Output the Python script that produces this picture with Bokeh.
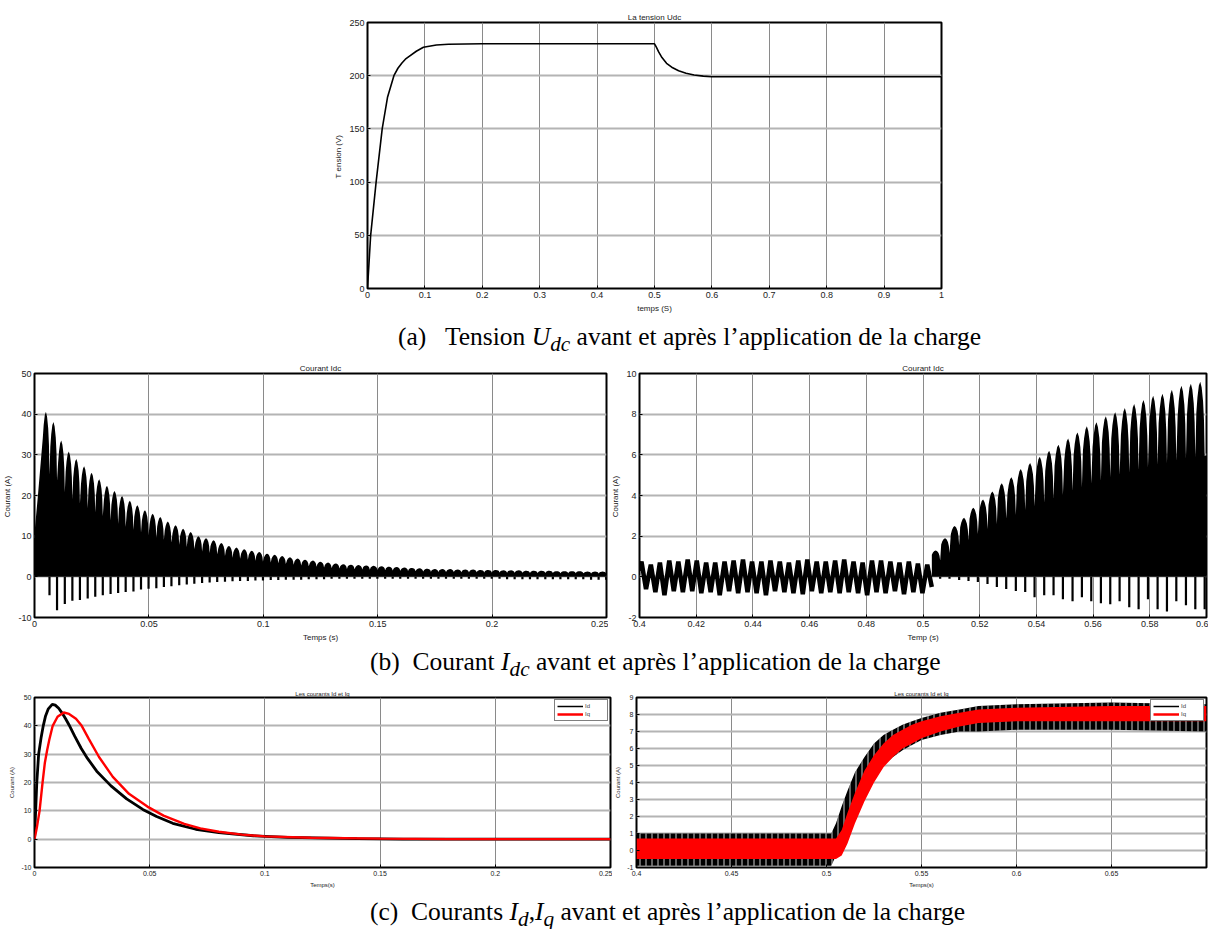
from bokeh.plotting import figure
from bokeh.models import FixedTicker, Div, Range1d, Legend, LegendItem
from bokeh.layouts import column, row
from bokeh.embed import file_html
from bokeh.resources import INLINE

# ---------------- data ----------------
# (a) DC bus voltage
udc_t = [0, 0.0055, 0.015, 0.0256, 0.035, 0.046, 0.053, 0.06, 0.066, 0.072, 0.085, 0.0974, 0.12, 0.141, 0.2,
         0.5, 0.503, 0.507, 0.513, 0.521, 0.53, 0.542, 0.555, 0.569, 0.585, 0.6, 1.0]
udc_v = [0, 50, 100, 150, 180, 200, 207, 212, 215.5, 218, 223, 226.7, 228.8, 229.5, 230,
         230, 227, 222.6, 217, 211.6, 208, 204.7, 202.3, 200.6, 199.6, 199, 199]
udc_xticks = [0.0, 0.1, 0.2, 0.3, 0.4, 0.5, 0.6, 0.7, 0.8, 0.9, 1.0]
udc_xlabels = ["0", "0.1", "0.2", "0.3", "0.4", "0.5", "0.6", "0.7", "0.8", "0.9", "1"]
udc_yticks = [0, 50, 100, 150, 200, 250]
udc_ylabels = ["0", "50", "100", "150", "200", "250"]

# (b-left) Idc, start-up: ripple lobe peaks and negative spikes
idc1_lead_t = [0.0, 0.0002, 0.0015, 0.003]
idc1_lead_v = [0.0, 12.0, 20.0, 30.0]
idc1_peak_t = [0.0050, 0.0083, 0.0117, 0.0150, 0.0183, 0.0217, 0.0250, 0.0283, 0.0317, 0.0350,
               0.0383, 0.0417, 0.0450, 0.0483, 0.0517, 0.0550, 0.0583, 0.0617, 0.0650, 0.0683,
               0.0717, 0.0750, 0.0783, 0.0817, 0.0850, 0.0883, 0.0917, 0.0950, 0.0983, 0.1017,
               0.1050, 0.1083, 0.1117, 0.1150, 0.1183, 0.1217, 0.1250, 0.1283, 0.1317, 0.1350,
               0.1383, 0.1417, 0.1450, 0.1483, 0.1517, 0.1550, 0.1583, 0.1617, 0.1650, 0.1683,
               0.1717, 0.1750, 0.1783, 0.1817, 0.1850, 0.1883, 0.1917, 0.1950, 0.1983, 0.2017,
               0.2050, 0.2083, 0.2117, 0.2150, 0.2183, 0.2217, 0.2250, 0.2283, 0.2317, 0.2350,
               0.2383, 0.2417, 0.2450, 0.2483]
idc1_peak_v = [40.6, 38.1, 33.5, 30.8, 29.0, 27.2, 25.6, 24.0, 22.4, 21.1,
               19.9, 18.7, 17.6, 16.4, 15.5, 14.7, 13.6, 12.7, 11.8, 11.0,
               10.0, 9.5, 9.0, 8.3, 7.6, 7.2, 6.8, 6.4, 6.1, 5.7,
               5.4, 5.1, 4.8, 4.5, 4.2, 4.0, 3.7, 3.5, 3.3, 3.1,
               3.0, 2.9, 2.8, 2.7, 2.6, 2.5, 2.4, 2.3, 2.2, 2.1,
               2.0, 1.9, 1.9, 1.9, 1.8, 1.8, 1.8, 1.7, 1.7, 1.7,
               1.6, 1.6, 1.6, 1.5, 1.5, 1.5, 1.5, 1.4, 1.4, 1.4,
               1.4, 1.3, 1.3, 1.3]
idc1_neg_v = [-4.5, -8.2, -6.7, -5.9, -5.7, -5.3, -4.9, -4.5, -4.2, -4.0,
              -3.7, -3.6, -3.1, -2.9, -2.8, -2.5, -2.3, -2.1, -1.9, -1.7,
              -1.5, -1.4, -1.3, -1.2, -1.1, -1.0, -1.0, -0.9, -0.9, -0.8,
              -0.8, -0.7, -0.7, -0.7, -0.6, -0.6, -0.6, -0.5, -0.5, -0.5,
              -0.5, -0.5, -0.5, -0.5, -0.5, -0.5, -0.5, -0.5, -0.5, -0.5,
              -0.5, -0.5, -0.5, -0.5, -0.5, -0.5, -0.5, -0.5, -0.5, -0.5,
              -0.6, -0.6, -0.6, -0.6, -0.6, -0.6, -0.6, -0.6, -0.6, -0.6,
              -0.6, -0.7, -0.7, -0.7]
idc1_xticks = [0.0, 0.05, 0.1, 0.15, 0.2, 0.25]
idc1_xlabels = ["0", "0.05", "0.1", "0.15", "0.2", "0.25"]
idc1_yticks = [-10, 0, 10, 20, 30, 40, 50]
idc1_ylabels = ["-10", "0", "10", "20", "30", "40", "50"]

# (b-right) Idc around the load step
idc2_wave_start_t = [0.4]
idc2_wave_start_v = [0.3]
idc2_wave_peak_t = [0.4007, 0.4040, 0.4072, 0.4105, 0.4137, 0.4170, 0.4202, 0.4235, 0.4267, 0.4300,
                    0.4332, 0.4365, 0.4397, 0.4430, 0.4462, 0.4495, 0.4527, 0.4560, 0.4592, 0.4625,
                    0.4657, 0.4690, 0.4722, 0.4755, 0.4787, 0.4820, 0.4852, 0.4885, 0.4917, 0.4950,
                    0.4982, 0.5015]
idc2_wave_peak_v = [0.75, 0.6, 0.7, 0.8, 0.75, 0.85, 0.8, 0.7, 0.7, 0.75,
                    0.8, 0.85, 0.75, 0.75, 0.8, 0.75, 0.7, 0.8, 0.85, 0.75,
                    0.75, 0.8, 0.85, 0.75, 0.7, 0.8, 0.8, 0.75, 0.7, 0.75,
                    0.65, 0.6]
idc2_wave_trough_t = [0.4023, 0.4056, 0.4088, 0.4121, 0.4153, 0.4186, 0.4218, 0.4251, 0.4283, 0.4316,
                      0.4348, 0.4381, 0.4413, 0.4446, 0.4478, 0.4511, 0.4543, 0.4576, 0.4608, 0.4641,
                      0.4673, 0.4706, 0.4738, 0.4771, 0.4803, 0.4836, 0.4868, 0.4901, 0.4933, 0.4966,
                      0.4998, 0.5031]
idc2_wave_trough_v = [-0.6, -0.75, -0.9, -0.7, -0.75, -0.7, -0.8, -0.75, -0.9, -0.7,
                      -0.8, -0.75, -0.8, -0.9, -0.7, -0.75, -0.8, -0.85, -0.7, -0.8,
                      -0.75, -0.8, -0.75, -0.8, -0.9, -0.75, -0.8, -0.7, -0.85, -0.75,
                      -0.8, -0.5]
idc2_peak_t = [0.5045, 0.5078, 0.5112, 0.5145, 0.5178, 0.5212, 0.5245, 0.5278, 0.5312, 0.5345,
               0.5378, 0.5412, 0.5445, 0.5478, 0.5512, 0.5545, 0.5578, 0.5612, 0.5645, 0.5678,
               0.5712, 0.5745, 0.5778, 0.5812, 0.5845, 0.5878, 0.5912, 0.5945, 0.5978]
idc2_peak_v = [1.3, 1.9, 2.5, 2.9, 3.4, 3.8, 4.2, 4.6, 4.9, 5.3,
               5.6, 5.9, 6.2, 6.5, 6.8, 7.1, 7.4, 7.6, 7.9, 8.1,
               8.3, 8.5, 8.7, 8.9, 9.0, 9.2, 9.4, 9.5, 9.6]
idc2_neg_v = [-0.1, -0.1, -0.15, -0.2, -0.25, -0.35, -0.5, -0.6, -0.7, -0.75,
              -1.0, -0.9, -0.9, -1.1, -1.2, -1.0, -1.2, -1.3, -1.35, -1.2,
              -1.5, -1.6, -1.1, -1.6, -1.7, -1.2, -1.4, -1.6, -1.6]
idc2_xticks = [0.4, 0.42, 0.44, 0.46, 0.48, 0.5, 0.52, 0.54, 0.56, 0.58, 0.6]
idc2_xlabels = ["0.4", "0.42", "0.44", "0.46", "0.48", "0.5", "0.52", "0.54", "0.56", "0.58", "0.6"]
idc2_yticks = [-2, 0, 2, 4, 6, 8, 10]
idc2_ylabels = ["-2", "0", "2", "4", "6", "8", "10"]

# (c-left) Id, Iq start-up
id1_t = [0, 0.0005, 0.001, 0.0018, 0.0029, 0.0038, 0.0048, 0.006, 0.0077, 0.009, 0.0105, 0.012,
         0.0135, 0.015, 0.0175, 0.0203, 0.023, 0.027, 0.0332, 0.040, 0.047, 0.053, 0.06, 0.07,
         0.08, 0.095, 0.11, 0.14, 0.16, 0.25]
id1_v = [0, 10, 20, 30, 36, 40, 43.5, 46, 47.6, 47.3, 46.2, 44.5,
         42.5, 40.3, 36.3, 32, 28.5, 24, 18.8, 14.2, 10.5, 8, 5.6, 3.5,
         2.3, 1.2, 0.6, 0.2, 0.0, 0.0]
iq1_t = [0, 0.001, 0.0022, 0.0035, 0.0045, 0.0055, 0.0064, 0.0079, 0.010, 0.0127, 0.015, 0.018,
         0.0205, 0.0235, 0.028, 0.034, 0.041, 0.049, 0.056, 0.065, 0.072, 0.08, 0.09, 0.1,
         0.12, 0.15, 0.18, 0.25]
iq1_v = [0, 4, 10, 20, 27, 31.5, 35, 40, 43.2, 44.7, 44.2, 42.5,
         40, 35.5, 29, 22, 16, 11.5, 8.3, 5.4, 3.8, 2.6, 1.6, 1.0,
         0.5, 0.2, 0.0, 0.0]
c1_xticks = [0.0, 0.05, 0.1, 0.15, 0.2, 0.25]
c1_xlabels = ["0", "0.05", "0.1", "0.15", "0.2", "0.25"]
c1_yticks = [-10, 0, 10, 20, 30, 40, 50]
c1_ylabels = ["-10", "0", "10", "20", "30", "40", "50"]

# (c-right) Id, Iq around load step: ripple band edges
c2_t = [0.4, 0.5025, 0.505, 0.508, 0.511, 0.515, 0.52, 0.525, 0.53, 0.535, 0.54, 0.545, 0.55,
        0.56, 0.57, 0.58, 0.6, 0.65, 0.7]
id2_hi = [1.0, 1.0, 1.6, 2.6, 3.5, 4.6, 5.5, 6.3, 6.8, 7.1, 7.4, 7.6, 7.8,
          8.1, 8.3, 8.5, 8.6, 8.7, 8.6]
id2_lo = [-0.9, -0.9, -0.3, 0.3, 1.2, 2.2, 3.2, 4.2, 5.0, 5.5, 5.9, 6.2, 6.5,
          6.8, 7.0, 7.0, 7.1, 7.1, 7.0]
iq2_hi = [0.7, 0.7, 0.7, 1.2, 2.2, 3.4, 4.7, 5.6, 6.3, 6.8, 7.1, 7.4, 7.6,
          7.9, 8.1, 8.3, 8.4, 8.5, 8.5]
iq2_lo = [-0.5, -0.5, -0.5, -0.3, 0.4, 1.6, 2.9, 4.0, 4.9, 5.5, 6.0, 6.3, 6.6,
          7.0, 7.3, 7.5, 7.6, 7.6, 7.6]
c2_xticks = [0.4, 0.45, 0.5, 0.55, 0.6, 0.65, 0.7]
c2_xlabels = ["0.4", "0.45", "0.5", "0.55", "0.6", "0.65", ""]
c2_yticks = [-1, 0, 1, 2, 3, 4, 5, 6, 7, 8, 9]
c2_ylabels = ["-1", "0", "1", "2", "3", "4", "5", "6", "7", "8", "9"]

# ---------------- helpers ----------------
FONT = "'Liberation Sans Narrow', 'Liberation Sans', Arial, sans-serif"
SERIF = "'Liberation Serif', 'Times New Roman', serif"


def make_fig(w, h, xr, yr, title, borders, title_fs):
    l, r, t, b = borders
    p = figure(width=w, height=h, x_range=Range1d(*xr), y_range=Range1d(*yr),
               output_backend="svg", toolbar_location=None,
               min_border_left=l, min_border_right=r, min_border_top=t, min_border_bottom=b,
               title=title)
    p.title.align = "center"
    p.title.text_font = FONT
    p.title.text_font_size = title_fs
    p.title.text_font_style = "normal"
    p.title.text_color = "#222222"
    p.title.standoff = 2
    p.background_fill_color = "white"
    p.border_fill_color = "white"
    p.outline_line_color = "black"
    p.outline_line_width = 2
    p.xgrid.grid_line_color = "#8a8a8a"
    p.xgrid.grid_line_width = 1
    p.ygrid.grid_line_color = "#b4b4b4"
    p.ygrid.grid_line_width = 2
    return p


def axes(p, xt, xl, yt, yl, xlab, ylab, tick_fs, lab_fs):
    for ax, t, lab, name in ((p.xaxis[0], xt, xl, xlab), (p.yaxis[0], yt, yl, ylab)):
        ax.ticker = FixedTicker(ticks=t)
        ax.major_label_overrides = dict(zip(t, lab))
        ax.major_label_text_font = FONT
        ax.major_label_text_font_size = tick_fs
        ax.major_label_text_color = "#222222"
        ax.major_tick_in = 3
        ax.major_tick_out = 0
        ax.minor_tick_in = 0
        ax.minor_tick_out = 0
        ax.axis_line_color = None
        ax.major_label_standoff = 3
        ax.axis_label = name
        ax.axis_label_text_font = FONT
        ax.axis_label_text_font_size = lab_fs
        ax.axis_label_text_font_style = "normal"
        ax.axis_label_text_color = "#222222"
        ax.axis_label_standoff = 3


# lobe outline profile (fraction of period, fraction of peak) - drawing style only
LOBE = [(-0.42, 0.84), (-0.3, 0.92), (-0.15, 0.98), (0.0, 1.0), (0.15, 0.97),
        (0.3, 0.9), (0.4, 0.8), (0.47, 0.62)]


def lobes(p, lead_t, lead_v, peak_t, peak_v, neg_v, end_t):
    period = peak_t[1] - peak_t[0]
    xs, ys = list(lead_t), list(lead_v)
    for t, v in zip(peak_t, peak_v):
        for dx, f in LOBE:
            xs.append(t + dx * period)
            ys.append(f * v)
    xs.append(end_t)
    ys.append(ys[-1])
    p.varea(x=xs, y1=[0] * len(xs), y2=ys, fill_color="black")
    sx = [t + 0.47 * period for t in peak_t]
    p.segment(x0=sx, y0=[0] * len(sx), x1=sx, y1=neg_v, line_color="black", line_width=2.2)


def caption(html, left):
    return Div(text=(f'<div style="font-family:{SERIF};font-size:25.5px;line-height:30px;'
                     f'white-space:nowrap;padding-left:{left}px;color:#000">{html}</div>'),
               width=1208, height=30, margin=(0, 0, 0, 0))


# ---------------- (a) ----------------
pa = make_fig(1208, 322, (0, 1), (0, 250), "La tension Udc", (367, 267, 22, 34), "8px")
axes(pa, udc_xticks, udc_xlabels, udc_yticks, udc_ylabels, "temps (S)", "T ension  (V)", "9px", "8px")
pa.line(udc_t, udc_v, line_color="black", line_width=1.6)

# ---------------- (b) ----------------
pb1 = make_fig(608, 295, (0, 0.25), (-10, 50), "Courant Idc", (34, 2, 21, 30), "8px")
axes(pb1, idc1_xticks, idc1_xlabels, idc1_yticks, idc1_ylabels, "Temps (s)", "Courant  (A)", "9px", "8px")
lobes(pb1, idc1_lead_t, idc1_lead_v, idc1_peak_t, idc1_peak_v, idc1_neg_v, 0.25)

pb2 = make_fig(600, 295, (0.4, 0.6), (-2, 10), "Courant Idc", (30, 2, 21, 30), "8px")
axes(pb2, idc2_xticks, idc2_xlabels, idc2_yticks, idc2_ylabels, "Temp (s)", "Courant  (A)", "9px", "8px")
wave_x = list(idc2_wave_start_t)
wave_y = list(idc2_wave_start_v)
for pt, pv, tt, tv in zip(idc2_wave_peak_t, idc2_wave_peak_v, idc2_wave_trough_t, idc2_wave_trough_v):
    wave_x += [pt, tt]
    wave_y += [pv, tv]
pb2.line(wave_x, wave_y, line_color="black", line_width=4.5)
lobes(pb2, [], [], idc2_peak_t, idc2_peak_v, idc2_neg_v, 0.6)

# ---------------- (c) ----------------
pc1 = make_fig(612, 220, (0, 0.25), (-10, 50), "Les courants Id et Iq", (34, 2, 20, 30), "6px")
axes(pc1, c1_xticks, c1_xlabels, c1_yticks, c1_ylabels, "Temps(s)", "Courant (A)", "7px", "6px")
pc1.line(id1_t, id1_v, line_color="black", line_width=2.8)
pc1.line(iq1_t, iq1_v, line_color="red", line_width=2.4)

pc2 = make_fig(596, 220, (0.4, 0.7), (-1, 9), "Les courants Id et Iq", (22, 2, 20, 30), "6px")
axes(pc2, c2_xticks, c2_xlabels, c2_yticks, c2_ylabels, "Temps(s)", "Courant (A)", "7px", "6px")
pc2.varea(x=c2_t, y1=id2_lo, y2=id2_hi, fill_color="black",
          hatch_pattern="|", hatch_color="white", hatch_scale=6, hatch_weight=0.8)
pc2.varea(x=c2_t, y1=iq2_lo, y2=iq2_hi, fill_color="red")

for p in (pc1, pc2):
    lid = p.line(c2_t[:1], [None], line_color="black", line_width=1.5)
    liq = p.line(c2_t[:1], [None], line_color="red", line_width=2.5)
    leg = Legend(items=[LegendItem(label="Id", renderers=[lid]), LegendItem(label="Iq", renderers=[liq])],
                 location="top_right", label_text_font=FONT, label_text_font_size="6px",
                 glyph_height=8, glyph_width=26, label_height=8, label_standoff=2,
                 spacing=0, padding=2, margin=2, border_line_color="black", border_line_width=1.5,
                 background_fill_alpha=1)
    p.add_layout(leg, "center")

cap_a = caption("(a)&nbsp;&nbsp; Tension <i>U<sub>dc</sub></i> avant et après l’application de la charge", 398)
cap_b = caption("(b)&nbsp; Courant <i>I<sub>dc</sub></i> avant et après l’application de la charge", 370)
cap_c = caption("(c)&nbsp; Courants <i>I<sub>d</sub></i>,<i>I<sub>q</sub></i> avant et après l’application de la charge", 370)

layout = column(pa, cap_a, row(pb1, pb2, spacing=0), cap_b, row(pc1, pc2, spacing=0), cap_c, spacing=0)

open("out.html", "w").write(file_html(layout, INLINE))
